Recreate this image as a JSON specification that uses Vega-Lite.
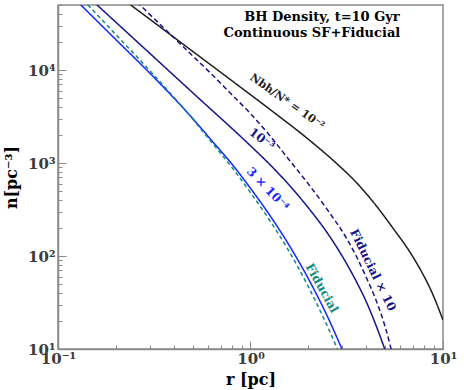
{
  "$schema": "https://vega.github.io/schema/vega-lite/v6.json",
  "width": 385,
  "height": 344,
  "autosize": {"type": "none"},
  "padding": {"left": 58, "top": 5, "right": 21, "bottom": 41},
  "config": {"view": {"stroke": "#8a8a8a", "strokeWidth": 1.5}, "font": "DejaVu Serif"},
  "layer": [
    {
      "data": {"values": [
        {"curve": "1e-2", "r": 0.1995, "n": 66070},
        {"curve": "1e-2", "r": 0.3162, "n": 32360},
        {"curve": "1e-2", "r": 0.5012, "n": 15850},
        {"curve": "1e-2", "r": 0.7943, "n": 7762},
        {"curve": "1e-2", "r": 1.2589, "n": 3784},
        {"curve": "1e-2", "r": 1.9953, "n": 1803},
        {"curve": "1e-2", "r": 2.818, "n": 977},
        {"curve": "1e-2", "r": 3.548, "n": 616.6},
        {"curve": "1e-2", "r": 4.325, "n": 384.6},
        {"curve": "1e-2", "r": 5.495, "n": 199.5},
        {"curve": "1e-2", "r": 6.745, "n": 109.6},
        {"curve": "1e-2", "r": 7.603, "n": 72.4},
        {"curve": "1e-2", "r": 8.71, "n": 41.7},
        {"curve": "1e-2", "r": 10.0, "n": 20.5},

        {"curve": "1e-3", "r": 0.1413, "n": 63100},
        {"curve": "1e-3", "r": 0.2512, "n": 21130},
        {"curve": "1e-3", "r": 0.5012, "n": 5689},
        {"curve": "1e-3", "r": 1.0, "n": 1531},
        {"curve": "1e-3", "r": 1.2589, "n": 966},
        {"curve": "1e-3", "r": 1.5849, "n": 582},
        {"curve": "1e-3", "r": 1.9953, "n": 331},
        {"curve": "1e-3", "r": 2.5119, "n": 175.8},
        {"curve": "1e-3", "r": 3.1623, "n": 82.2},
        {"curve": "1e-3", "r": 3.548, "n": 53.1},
        {"curve": "1e-3", "r": 3.981, "n": 32.7},
        {"curve": "1e-3", "r": 4.467, "n": 18.4},
        {"curve": "1e-3", "r": 5.012, "n": 9.66},
        {"curve": "1e-3", "r": 5.248, "n": 7.41},

        {"curve": "3e-4", "r": 0.1122, "n": 69180},
        {"curve": "3e-4", "r": 0.1995, "n": 21280},
        {"curve": "3e-4", "r": 0.3162, "n": 8279},
        {"curve": "3e-4", "r": 0.5012, "n": 3006},
        {"curve": "3e-4", "r": 0.631, "n": 1730},
        {"curve": "3e-4", "r": 0.7943, "n": 995.4},
        {"curve": "3e-4", "r": 1.0, "n": 534.6},
        {"curve": "3e-4", "r": 1.2589, "n": 274.2},
        {"curve": "3e-4", "r": 1.5849, "n": 131.2},
        {"curve": "3e-4", "r": 1.9953, "n": 57.3},
        {"curve": "3e-4", "r": 2.5119, "n": 22.3},
        {"curve": "3e-4", "r": 3.1623, "n": 7.55},

        {"curve": "Fiducial x 10", "r": 0.2399, "n": 61800},
        {"curve": "Fiducial x 10", "r": 0.3162, "n": 35560},
        {"curve": "Fiducial x 10", "r": 0.5012, "n": 14160},
        {"curve": "Fiducial x 10", "r": 0.631, "n": 8933},
        {"curve": "Fiducial x 10", "r": 0.7943, "n": 5508},
        {"curve": "Fiducial x 10", "r": 1.0, "n": 3396},
        {"curve": "Fiducial x 10", "r": 1.2589, "n": 1977},
        {"curve": "Fiducial x 10", "r": 1.5849, "n": 1086},
        {"curve": "Fiducial x 10", "r": 1.9953, "n": 597},
        {"curve": "Fiducial x 10", "r": 2.5119, "n": 313.3},
        {"curve": "Fiducial x 10", "r": 3.1623, "n": 153.5},
        {"curve": "Fiducial x 10", "r": 3.548, "n": 99.1},
        {"curve": "Fiducial x 10", "r": 3.981, "n": 59.7},
        {"curve": "Fiducial x 10", "r": 4.467, "n": 34.4},
        {"curve": "Fiducial x 10", "r": 5.012, "n": 17.2},
        {"curve": "Fiducial x 10", "r": 5.623, "n": 6.86},

        {"curve": "Fiducial", "r": 0.1202, "n": 73450},
        {"curve": "Fiducial", "r": 0.1995, "n": 24100},
        {"curve": "Fiducial", "r": 0.3162, "n": 8750},
        {"curve": "Fiducial", "r": 0.5012, "n": 2965},
        {"curve": "Fiducial", "r": 0.631, "n": 1648},
        {"curve": "Fiducial", "r": 0.7943, "n": 916},
        {"curve": "Fiducial", "r": 1.0, "n": 481},
        {"curve": "Fiducial", "r": 1.2589, "n": 241},
        {"curve": "Fiducial", "r": 1.5849, "n": 112.7},
        {"curve": "Fiducial", "r": 1.9953, "n": 47.0},
        {"curve": "Fiducial", "r": 2.5119, "n": 17.46},
        {"curve": "Fiducial", "r": 3.1623, "n": 5.78}
      ]},
      "mark": {"type": "line", "clip": true, "strokeWidth": 1.5, "interpolate": "monotone"},
      "encoding": {
        "x": {
          "field": "r", "type": "quantitative",
          "scale": {"type": "log", "domain": [0.1, 10], "nice": false},
          "axis": {
            "values": [0.1, 0.2, 0.3, 0.4, 0.5, 0.6, 0.7, 0.8, 0.9, 1, 2, 3, 4, 5, 6, 7, 8, 9, 10],
            "labelExpr": "datum.value == 0.1 ? '10⁻¹' : datum.value == 1 ? '10⁰' : datum.value == 10 ? '10¹' : ''",
            "title": "r [pc]",
            "titleFont": "DejaVu Serif", "titleFontSize": 16, "titleFontWeight": "bold", "titleColor": "#000000",
            "titlePadding": 1,
            "labelFont": "DejaVu Serif", "labelFontSize": 15, "labelFontWeight": "bold", "labelColor": "#3c3c3c",
            "labelFlush": false, "labelOverlap": false, "labelPadding": 10,
            "tickColor": "#8a8a8a", "tickWidth": 1,
            "tickSize": {"condition": {"test": "datum.value == 0.1 || datum.value == 1 || datum.value == 10", "value": -8}, "value": -4},
            "domainColor": "#8a8a8a", "domainWidth": 1.5, "grid": false
          }
        },
        "y": {
          "field": "n", "type": "quantitative",
          "scale": {"type": "log", "domain": [10, 50000], "nice": false},
          "axis": {
            "values": [10, 20, 30, 40, 50, 60, 70, 80, 90, 100, 200, 300, 400, 500, 600, 700, 800, 900, 1000, 2000, 3000, 4000, 5000, 6000, 7000, 8000, 9000, 10000, 20000, 30000, 40000, 50000],
            "labelExpr": "datum.value == 10 ? '10¹' : datum.value == 100 ? '10²' : datum.value == 1000 ? '10³' : datum.value == 10000 ? '10⁴' : ''",
            "title": "n[pc⁻³]",
            "titleFont": "DejaVu Serif", "titleFontSize": 16, "titleFontWeight": "bold", "titleColor": "#000000",
            "titlePadding": 8,
            "labelFont": "DejaVu Serif", "labelFontSize": 15, "labelFontWeight": "bold", "labelColor": "#3c3c3c",
            "labelFlush": false, "labelOverlap": false, "labelPadding": 11,
            "tickColor": "#8a8a8a", "tickWidth": 1,
            "tickSize": {"condition": {"test": "datum.value == 10 || datum.value == 100 || datum.value == 1000 || datum.value == 10000", "value": -8}, "value": -4},
            "domainColor": "#8a8a8a", "domainWidth": 1.5, "grid": false
          }
        },
        "color": {
          "field": "curve", "type": "nominal", "legend": null,
          "scale": {"domain": ["1e-2", "1e-3", "3e-4", "Fiducial x 10", "Fiducial"], "range": ["#1e1e1e", "#16168a", "#1428ff", "#16168a", "#108a82"]}
        },
        "strokeDash": {
          "field": "curve", "type": "nominal", "legend": null,
          "scale": {"domain": ["1e-2", "1e-3", "3e-4", "Fiducial x 10", "Fiducial"], "range": [[1, 0], [1, 0], [1, 0], [5, 3], [4, 3]]}
        }
      }
    },
    {
      "data": {"values": [
        {"t": "BH Density, t=10 Gyr", "r": 2.35, "n": 36700},
        {"t": "Continuous SF+Fiducial", "r": 2.085, "n": 25000}
      ]},
      "mark": {"type": "text", "font": "DejaVu Serif", "fontSize": 13, "fontWeight": "bold", "color": "#000000", "align": "center", "baseline": "middle"},
      "encoding": {
        "x": {"field": "r", "type": "quantitative"},
        "y": {"field": "n", "type": "quantitative"},
        "text": {"field": "t"}
      }
    },
    {
      "data": {"values": [{"t": "Nbh/N* = 10⁻²", "r": 1.549, "n": 4529}]},
      "mark": {"type": "text", "font": "DejaVu Serif", "fontSize": 11, "fontWeight": "bold", "color": "#1e1e1e", "align": "center", "baseline": "middle", "angle": 35},
      "encoding": {
        "x": {"field": "r", "type": "quantitative"},
        "y": {"field": "n", "type": "quantitative"},
        "text": {"field": "t"}
      }
    },
    {
      "data": {"values": [{"t": "10⁻³", "r": 1.147, "n": 1811}]},
      "mark": {"type": "text", "font": "DejaVu Serif", "fontSize": 12, "fontWeight": "bold", "color": "#16168a", "align": "center", "baseline": "middle", "angle": 37},
      "encoding": {
        "x": {"field": "r", "type": "quantitative"},
        "y": {"field": "n", "type": "quantitative"},
        "text": {"field": "t"}
      }
    },
    {
      "data": {"values": [{"t": "3 × 10⁻⁴", "r": 1.233, "n": 525}]},
      "mark": {"type": "text", "font": "DejaVu Serif", "fontSize": 12, "fontWeight": "bold", "color": "#1428ff", "align": "center", "baseline": "middle", "angle": 46},
      "encoding": {
        "x": {"field": "r", "type": "quantitative"},
        "y": {"field": "n", "type": "quantitative"},
        "text": {"field": "t"}
      }
    },
    {
      "data": {"values": [{"t": "Fiducial × 10", "r": 4.33, "n": 70.6}]},
      "mark": {"type": "text", "font": "DejaVu Serif", "fontSize": 12, "fontWeight": "bold", "color": "#16168a", "align": "center", "baseline": "middle", "angle": 64},
      "encoding": {
        "x": {"field": "r", "type": "quantitative"},
        "y": {"field": "n", "type": "quantitative"},
        "text": {"field": "t"}
      }
    },
    {
      "data": {"values": [{"t": "Fiducial", "r": 2.35, "n": 45.3}]},
      "mark": {"type": "text", "font": "DejaVu Serif", "fontSize": 12, "fontWeight": "bold", "color": "#108a82", "align": "center", "baseline": "middle", "angle": 61},
      "encoding": {
        "x": {"field": "r", "type": "quantitative"},
        "y": {"field": "n", "type": "quantitative"},
        "text": {"field": "t"}
      }
    }
  ]
}
